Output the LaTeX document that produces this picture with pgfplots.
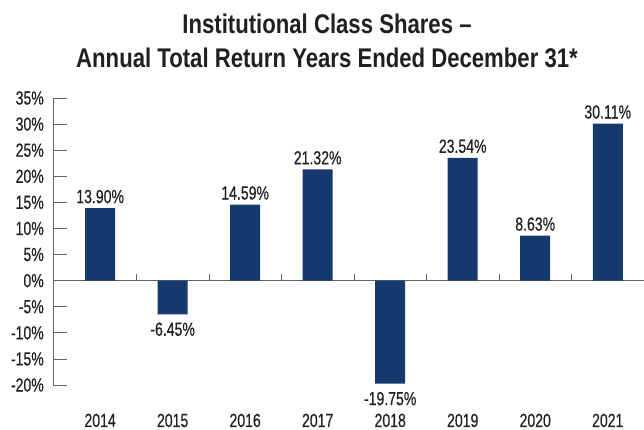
\documentclass[border=0pt]{standalone}
\usepackage{fontspec}
\setmainfont[FakeStretch=0.74,FakeBold=0.5]{Liberation Sans}
\newfontfamily\titlefont[FakeStretch=0.82]{Liberation Sans}
\usepackage{pgfplots}
\pgfplotsset{compat=1.18}
\definecolor{barblue}{RGB}{22,58,110}
\definecolor{txt}{RGB}{35,31,32}
\definecolor{axgray}{RGB}{100,100,100}
\begin{document}
\begin{tikzpicture}
\useasboundingbox (0,0) rectangle (644pt,430pt);
\node[anchor=base,font=\titlefont\bfseries\fontsize{27}{30}\selectfont,text=txt,inner sep=0pt] at (327pt,396pt) {Institutional Class Shares \textendash};
\node[anchor=base,font=\titlefont\bfseries\fontsize{27}{30}\selectfont,text=txt,inner sep=0pt] at (327pt,362pt) {Annual Total Return Years Ended December 31*};
\begin{axis}[
  at={(53pt,45pt)}, anchor=south west,
  scale only axis, width=591pt, height=287pt,
  xmin=-0.65, xmax=7.5, ymin=-20, ymax=35,
  axis y line*=left, axis x line*=bottom,
  x axis line style={draw=none},
  y axis line style={axgray, line width=0.8pt},
  ytick={-20,-15,...,35},
  yticklabel={\pgfmathprintnumber{\tick}\%},
  /pgf/number format/assume math mode=true,
  ytick style={axgray, line width=0.8pt},
  major tick length=14pt,
  tick align=inside,
  xtick={0,...,7},
  xticklabels={2014,2015,2016,2017,2018,2019,2020,2021},
  xtick style={draw=none},
  tick label style={font=\fontsize{19}{22}\selectfont, text=txt},
  yticklabel style={inner sep=0pt, xshift=-9pt},
  xticklabel style={inner sep=0pt, anchor=base, yshift=-28pt},
  ybar, bar width=30pt, bar shift=0pt,
  clip=false,
]
\draw[axgray, line width=0.8pt] (axis cs:-0.65,0) -- (axis cs:7.5,0);
\pgfplotsinvokeforeach{0.5,1.5,2.5,3.5,4.5,5.5,6.5}{
  \draw[axgray, line width=0.8pt] (axis cs:#1,0) -- ++(0pt,7pt);
}
\addplot[fill=barblue, draw=none,
  nodes near coords={\pgfmathprintnumber[fixed,fixed zerofill,precision=2]{\pgfplotspointmeta}\%},
  nodes near coords style={anchor=base, inner sep=0pt, yshift=5pt, text=txt, font=\fontsize{19}{22}\selectfont, /pgf/number format/assume math mode=true}]
  coordinates {(0,13.90) (2,14.59) (3,21.32) (5,23.54) (6,8.63) (7,30.11)};
\addplot[fill=barblue, draw=none,
  nodes near coords={\pgfmathprintnumber[fixed,fixed zerofill,precision=2]{\pgfplotspointmeta}\%},
  nodes near coords style={anchor=north, inner sep=0pt, yshift=-8pt, text=txt, font=\fontsize{19}{22}\selectfont, /pgf/number format/assume math mode=true}]
  coordinates {(1,-6.45) (4,-19.75)};
\end{axis}
\end{tikzpicture}
\end{document}
